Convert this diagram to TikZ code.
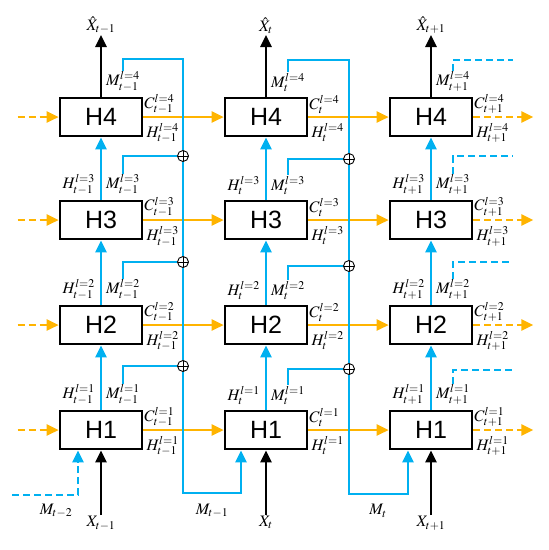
\documentclass[tikz,border=0pt]{standalone}
\usepackage{mathptmx}
\usepackage{fontspec}
\usetikzlibrary{arrows.meta}
\newfontfamily\boxfont{Liberation Sans}
\definecolor{amber}{RGB}{255,180,0}
\definecolor{sky}{RGB}{0,176,240}

\begin{document}
\begin{tikzpicture}[x=1pt,y=1pt,
    cell/.style={draw,line width=2.6pt,minimum width=82pt,minimum height=38pt,inner sep=0pt,
      font=\boxfont\fontsize{25}{28}\selectfont},
    lab/.style={inner sep=1pt,font=\fontsize{16}{18}\selectfont},
    tri/.style={-{Triangle[length=12pt,width=11pt]}},
    cflow/.style={draw=amber,line width=2.5pt,tri},
    hflow/.style={draw=sky,line width=2.5pt,tri},
    xflow/.style={draw=black,line width=2.5pt,tri},
    mline/.style={draw=sky,line width=2.5pt},
    gap/.style={dash pattern=on 7pt off 4pt},
    oplus/.style={circle,draw,fill=white,line width=0.9pt,minimum size=11pt,inner sep=0pt,
      path picture={\draw[line width=0.9pt] (path picture bounding box.north) -- (path picture bounding box.south)
        (path picture bounding box.west) -- (path picture bounding box.east);}}]

      \useasboundingbox (0,0) rectangle (549,-550);

      \begin{scope}[every node/.style={cell}]
        \node (a4) at (101,-117) {H4};
        \node (a3) at (101,-220) {H3};
        \node (a2) at (101,-325) {H2};
        \node (a1) at (101,-430) {H1};
        \node (b4) at (266,-117) {H4};
        \node (b3) at (266,-220) {H3};
        \node (b2) at (266,-325) {H2};
        \node (b1) at (266,-430) {H1};
        \node (c4) at (431,-117) {H4};
        \node (c3) at (431,-220) {H3};
        \node (c2) at (431,-325) {H2};
        \node (c1) at (431,-430) {H1};
      \end{scope}

      % state labels round each cell
      \foreach \col/\s in {a/{t-1},b/t,c/{t+1}} {
        \foreach \l in {1,...,4} {
          \node[lab,anchor=south west] (c\col\l) at ([yshift=2pt]\col\l.east) {$C^{l=\l}_{\s}$};
          \node[lab,anchor=north west] (h\col\l) at ([xshift=2pt,yshift=-5pt]\col\l.east) {$H^{l=\l}_{\s}$};
          \node[lab,anchor=south west] (m\col\l) at ([xshift=4pt,yshift=4pt]\col\l.north) {$M^{l=\l}_{\s}$};
        }
        \foreach \l in {1,2,3}
          \node[lab,anchor=south east] (u\col\l) at ([xshift=-5pt,yshift=4pt]\col\l.north) {$H^{l=\l}_{\s}$};
      }

      \begin{scope}[every node/.style={lab}]
        \node[anchor=south] (ya) at (101,-35) {$\hat{X}_{t-1}$};
        \node[anchor=south] (yb) at (266,-35) {$\hat{X}_{t}$};
        \node[anchor=south] (yc) at (431,-35) {$\hat{X}_{t+1}$};
        \node[anchor=north] (xa) at (101,-515) {$X_{t-1}$};
        \node[anchor=north] (xb) at (266,-515) {$X_{t}$};
        \node[anchor=north] (xc) at (431,-515) {$X_{t+1}$};
        \node (mt2) at (56,-511) {$M_{t-2}$};
        \node (mt1) at (212,-511) {$M_{t-1}$};
        \node (mt0) at (378,-511) {$M_{t}$};
      \end{scope}

      \coordinate (ka) at (183,-59);
      \coordinate (la) at (183,-493);
      \coordinate (kb) at (349,-60);
      \coordinate (lb) at (349,-494);
      \coordinate (l0) at (12,-495);
      \coordinate (ec4) at (513,-60);
      \coordinate (ec3) at (513,-156);
      \coordinate (ec2) at (513,-262);
      \coordinate (ec1) at (513,-370);

      % cell state flow
      \foreach \l in {1,...,4} {
        \coordinate (sa\l) at ([xshift=-41pt]a\l.west);
        \coordinate (tc\l) at ([xshift=60pt]c\l.east);
        \draw[cflow,gap] (sa\l) -- (a\l);
        \draw[cflow] (a\l) -- (b\l);
        \draw[cflow] (b\l) -- (c\l);
        \draw[cflow,gap] (c\l) -- (tc\l);
      }

      \foreach \col in {a,b,c} {
        \draw[hflow] (\col1) -- (\col2);
        \draw[hflow] (\col2) -- (\col3);
        \draw[hflow] (\col3) -- (\col4);
      }
      \draw[xflow] (a4) -- (ya);
      \draw[xflow] (b4) -- (yb);
      \draw[xflow] (c4) -- (yc);
      \draw[xflow] (xa) -- (a1);
      \draw[xflow] (xb) -- (b1);
      \draw[xflow] (xc) -- (c1);

      \node[oplus] (oa3) at (183,-156) {};
      \node[oplus] (oa2) at (183,-262) {};
      \node[oplus] (oa1) at (183,-366) {};
      \node[oplus] (ob3) at (349,-159) {};
      \node[oplus] (ob2) at (349,-266) {};
      \node[oplus] (ob1) at (349,-369) {};

      % memory paths
      \draw[hflow,gap] (l0) -| ([xshift=-23pt]a1.south);
      \draw[hflow] ([xshift=18pt]ma4.north west) |- (ka) -- (oa3) -- (oa2) -- (oa1) -- (la) -| ([xshift=-25pt]b1.south);
      \draw[hflow] ([xshift=18pt]mb4.north west) |- (kb) -- (ob3) -- (ob2) -- (ob1) -- (lb) -| ([xshift=-23pt]c1.south);
      \foreach \l in {1,2,3} {
        \draw[mline] ([xshift=18pt]ma\l.north west) |- (oa\l);
        \draw[mline] ([xshift=18pt]mb\l.north west) |- (ob\l);
      }
      \foreach \l in {1,...,4}
        \draw[mline,gap] ([xshift=18pt]mc\l.north west) |- (ec\l);

    \end{tikzpicture}
\end{document}
